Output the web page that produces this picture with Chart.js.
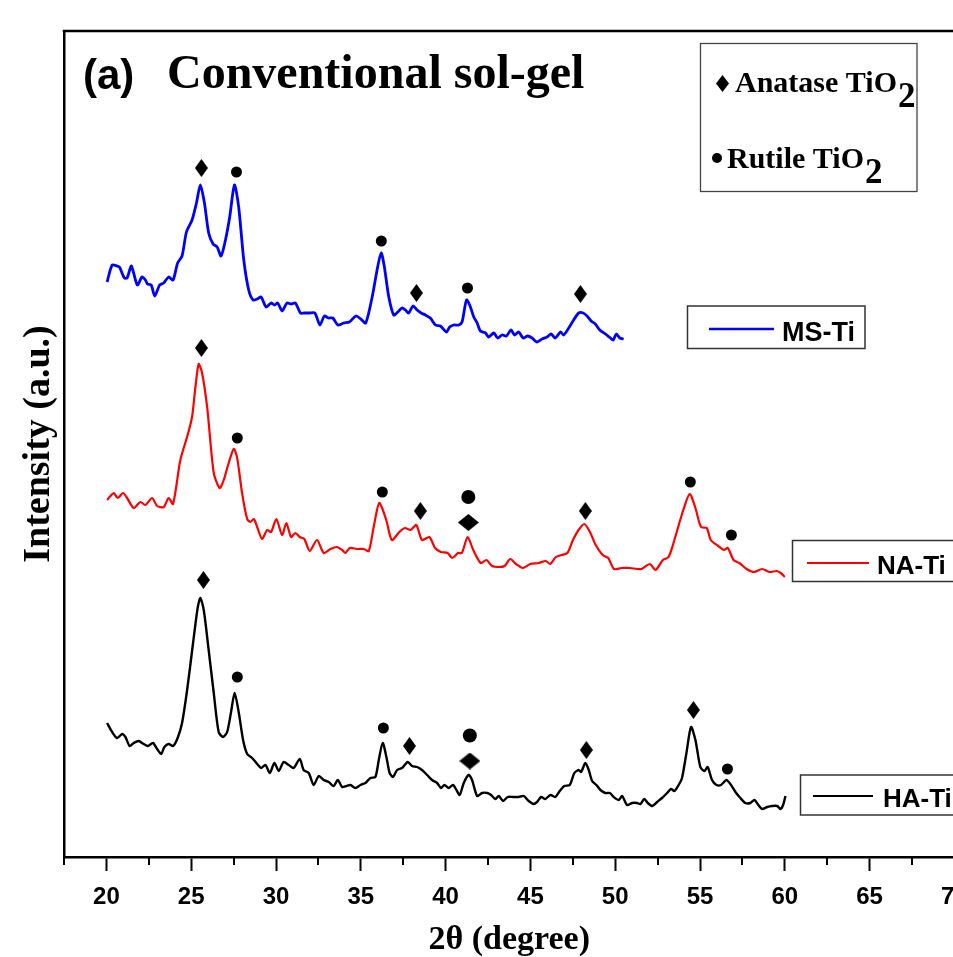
<!DOCTYPE html>
<html><head><meta charset="utf-8">
<script src="https://cdn.jsdelivr.net/npm/chart.js@4/dist/chart.umd.min.js"></script>
<style>
html,body{margin:0;padding:0;overflow:hidden;background:#fff;width:953px;height:957px}
#wrap{position:absolute;left:0;top:0;width:990px;height:957px}
</style>
</head><body><div id="wrap"><canvas id="c" width="990" height="957"></canvas></div>
<script>
// ---- data (2θ in degree, intensity in a.u. with the stacking offset of the figure) ----
const msTheta = [20.04,20.34,20.63,20.77,21.06,21.22,21.46,21.59,21.83,22.10,22.30,22.42,22.64,22.85,23.14,23.38,23.67,23.93,24.20,24.46,24.72,25.05,25.31,25.54,25.78,26.03,26.29,26.53,26.76,27.02,27.27,27.55,27.80,28.10,28.39,28.65,28.89,29.12,29.42,29.71,29.91,30.10,30.36,30.65,30.89,31.14,31.44,31.67,31.96,32.29,32.59,32.85,33.09,33.35,33.65,33.99,34.33,34.71,35.00,35.29,35.67,35.96,36.20,36.39,36.65,36.94,37.18,37.43,37.63,37.82,38.08,38.32,38.56,38.81,39.10,39.40,39.69,40.05,40.24,40.48,40.77,40.97,41.23,41.42,41.66,41.86,42.05,42.35,42.54,42.84,43.07,43.33,43.58,43.86,44.06,44.31,44.57,44.84,45.10,45.39,45.69,45.98,46.22,46.47,46.77,46.96,47.26,47.55,47.85,48.11,48.34,48.58,48.83,49.09,49.42,49.72,49.88,50.07,50.27,50.50];
const msInt = [575,592,591,590,579,579,591,585,572,580,577,573,572,561,572,574,580,577,594,601,625,637,654,672,654,624,613,610,601,617,640,672,650,597,567,557,558,560,550,554,552,554,546,554,553,554,544,544,544,544,532,541,539,539,532,534,535,541,538,534,560,587,604,590,560,542,545,549,547,544,551,547,544,542,539,532,531,525,530,532,532,535,557,552,540,534,526,524,520,524,519,522,521,527,522,525,519,521,519,515,518,520,523,519,525,522,529,537,544,544,541,536,533,527,523,519,517,523,519,518];

const naTheta = [20.04,20.24,20.43,20.67,20.98,21.22,21.61,22.00,22.30,22.69,22.99,23.38,23.67,23.93,24.36,24.79,25.05,25.25,25.44,25.64,25.94,26.33,26.68,26.92,27.21,27.51,27.71,28.00,28.30,28.49,28.69,28.89,29.18,29.48,29.71,30.02,30.36,30.61,30.89,31.14,31.40,31.67,31.99,32.42,32.81,33.21,33.60,33.90,34.09,34.35,34.78,35.17,35.47,35.76,36.09,36.50,36.83,37.27,37.60,37.94,38.27,38.61,39.04,39.38,39.72,40.12,40.39,40.73,40.96,41.30,41.63,42.07,42.41,42.74,43.14,43.48,43.81,44.15,44.55,44.99,45.50,45.90,46.17,46.50,46.84,47.18,47.51,47.84,48.18,48.51,48.85,49.26,49.59,49.93,50.37,50.87,51.54,52.04,52.38,52.81,53.15,53.49,53.96,54.39,54.73,55.06,55.40,55.63,56.07,56.41,56.64,56.98,57.32,57.75,58.19,58.66,59.09,59.53,59.76,60.00];
const naInt = [357,361,364,359,364,359,349,355,352,359,351,350,359,353,397,422,440,470,493,484,450,384,369,377,394,408,399,364,338,335,338,330,318,327,325,338,322,334,320,324,320,318,306,317,304,308,310,307,304,309,308,308,306,330,354,337,317,325,329,327,332,317,320,309,305,304,299,304,304,320,307,294,297,291,290,291,298,293,289,293,294,296,293,300,302,304,317,327,333,325,312,302,299,288,289,289,288,293,287,297,300,317,344,363,349,330,329,317,311,307,309,297,294,288,285,288,285,286,284,280];

const haTheta = [20.04,20.34,20.63,20.93,21.12,21.37,21.61,21.90,22.20,22.44,22.75,22.95,23.23,23.42,23.67,23.93,24.20,24.46,24.76,25.11,25.38,25.54,25.74,26.03,26.33,26.62,26.88,27.12,27.35,27.56,27.80,28.06,28.30,28.59,28.89,29.12,29.38,29.63,29.91,30.16,30.45,30.75,31.04,31.40,31.63,31.93,32.22,32.52,32.81,33.11,33.40,33.64,33.90,34.15,34.39,34.68,34.98,35.27,35.57,35.86,36.06,36.29,36.51,36.70,36.90,37.14,37.43,37.77,38.02,38.32,38.61,38.91,39.20,39.50,39.73,39.93,40.18,40.44,40.64,40.83,41.07,41.36,41.56,41.86,42.15,42.45,42.68,42.94,43.13,43.39,43.66,43.98,44.31,44.61,44.90,45.19,45.39,45.63,45.88,46.18,46.47,46.73,47.00,47.32,47.59,47.85,47.99,48.24,48.44,48.64,48.89,49.13,49.42,49.68,49.91,50.21,50.41,50.70,51.00,51.29,51.49,51.72,51.92,52.18,52.47,52.76,53.06,53.29,53.49,53.74,53.94,54.20,54.47,54.73,55.02,55.26,55.45,55.71,55.97,56.24,56.56,56.83,57.09,57.38,57.68,57.97,58.21,58.40,58.66,58.96,59.25,59.55,59.74,59.90,60.04];
const haInt = [134,125,119,123,120,111,114,116,113,111,114,109,103,110,113,111,119,134,167,214,249,259,247,207,164,125,120,125,145,164,145,117,103,99,93,89,92,84,94,86,95,92,89,98,87,84,72,81,77,75,71,77,70,71,72,69,72,74,79,80,97,114,100,84,80,87,89,95,91,90,87,82,77,74,69,72,69,72,67,62,74,82,77,61,64,64,62,58,61,56,60,60,60,61,56,53,55,60,58,62,60,66,71,72,84,87,85,94,87,76,72,67,64,64,60,57,61,52,54,54,53,58,54,51,55,59,64,68,66,72,79,104,130,117,90,86,90,77,72,72,77,72,65,59,54,54,57,53,48,50,51,51,48,52,61];

// phase markers (peak assignments)
const anataseTheta = [25.60,38.28,47.95,25.60,38.51,48.24,25.72,37.87,48.30,54.61];
const anataseInt   = [689,564,563,509,346,346,277,111,107,147];
const rutileTheta  = [27.67,36.21,41.29,27.72,36.27,54.43,56.85,27.72,36.33,56.62];
const rutileInt    = [685,616,569,419,365,375,322,180,129,88];
const mixedTheta   = [41.34,41.43];
const mixedRutileInt   = [360,121.5];
const mixedAnataseInt  = [334.5,96];

const xTickValues = [20,25,30,35,40,45,50,55,60,65,70];
const seriesNames = ['MS-Ti','NA-Ti','HA-Ti'];

const pts = (xs, ys) => xs.map((x, i) => ({x, y: ys[i]}));

function diamondImg(w, h) {
  const c = document.createElement('canvas');
  c.width = w; c.height = h;
  const g = c.getContext('2d');
  g.fillStyle = '#000';
  g.beginPath();
  g.moveTo(w / 2, 0); g.lineTo(w, h / 2); g.lineTo(w / 2, h); g.lineTo(0, h / 2);
  g.closePath(); g.fill();
  return c;
}
const smallDiamond = diamondImg(13, 18);
const bigDiamond = diamondImg(21, 17);

const deco = {
  id: 'deco',
  afterDraw(chart) {
    const ctx = chart.ctx, a = chart.chartArea, xs = chart.scales.x;
    ctx.save();
    ctx.strokeStyle = '#000';
    ctx.lineWidth = 2.5;
    ctx.beginPath(); ctx.moveTo(a.left - 1.25, a.top); ctx.lineTo(a.right, a.top); ctx.lineTo(a.right, a.bottom); ctx.stroke();

    // minor ticks
    ctx.lineWidth = 2;
    for (let v = 17.5; v <= 70; v += 2.5) {
      if (xTickValues.includes(v)) continue;
      const px = Math.round(xs.getPixelForValue(v));
      ctx.beginPath(); ctx.moveTo(px, a.bottom); ctx.lineTo(px, a.bottom + 8); ctx.stroke();
    }

    ctx.fillStyle = '#000';
    ctx.textAlign = 'left';
    ctx.textBaseline = 'alphabetic';
    ctx.font = 'bold 42px "Liberation Sans"';
    ctx.fillText('(a)', 83, 89);
    ctx.font = 'bold 48px "Liberation Serif"';
    ctx.fillText('Conventional sol-gel', 167, 88);

    // phase legend
    ctx.lineWidth = 1.3; ctx.strokeStyle = '#444';
    ctx.strokeRect(700.5, 43.5, 216.5, 148);
    ctx.drawImage(diamondImg(13, 17), 716, 75);
    ctx.beginPath(); ctx.arc(717, 158, 5, 0, Math.PI * 2); ctx.fill();
    ctx.font = 'bold 30px "Liberation Serif"';
    let w1 = ctx.measureText('Anatase TiO').width;
    ctx.fillText('Anatase TiO', 735, 92);
    let w2 = ctx.measureText('Rutile TiO').width;
    ctx.fillText('Rutile TiO', 727, 168);
    ctx.font = 'bold 35px "Liberation Serif"';
    ctx.fillText('2', 735 + w1 + 1, 107);
    ctx.fillText('2', 727 + w2 + 1, 183);

    // series label boxes
    const boxes = [
      {x: 687.5, y: 306, w: 177.5, h: 42.5, l1: 709, l2: 774, ly: 329, tx: 782, ty: 341, c: '#0000ff', lw: 2.5, fs: 27},
      {x: 792.5, y: 540.5, w: 220, h: 41, l1: 807, l2: 869, ly: 563, tx: 877, ty: 574, c: '#ff0000', lw: 2.2, fs: 26},
      {x: 800.5, y: 775, w: 220, h: 40, l1: 813, l2: 873, ly: 796, tx: 883, ty: 807, c: '#000000', lw: 2.2, fs: 26}
    ];
    boxes.forEach((b, i) => {
      ctx.lineWidth = 1.5; ctx.strokeStyle = '#333';
      ctx.strokeRect(b.x, b.y, b.w, b.h);
      ctx.strokeStyle = b.c; ctx.lineWidth = b.lw;
      ctx.beginPath(); ctx.moveTo(b.l1, b.ly); ctx.lineTo(b.l2, b.ly); ctx.stroke();
      ctx.fillStyle = '#000';
      ctx.font = 'bold ' + b.fs + 'px "Liberation Sans"';
      ctx.fillText(seriesNames[i], b.tx, b.ty);
    });
    ctx.restore();
  }
};

new Chart(document.getElementById('c'), {
  type: 'line',
  data: {
    datasets: [
      {label: seriesNames[0], data: pts(msTheta, msInt), borderColor: '#0000ff', borderWidth: 2.8, pointRadius: 0, tension: 0.25, fill: false},
      {label: seriesNames[1], data: pts(naTheta, naInt), borderColor: '#ff0000', borderWidth: 2.2, pointRadius: 0, tension: 0.25, fill: false},
      {label: seriesNames[2], data: pts(haTheta, haInt), borderColor: '#000000', borderWidth: 2.4, pointRadius: 0, tension: 0.25, fill: false},
      {type: 'scatter', label: 'Anatase', data: pts(anataseTheta, anataseInt), pointStyle: smallDiamond, pointRadius: 6, showLine: false},
      {type: 'scatter', label: 'Rutile', data: pts(rutileTheta, rutileInt), pointStyle: 'circle', pointRadius: 5.5, backgroundColor: '#000', borderWidth: 0, showLine: false},
      {type: 'scatter', label: 'Rutile*', data: pts(mixedTheta, mixedRutileInt), pointStyle: 'circle', pointRadius: 7, backgroundColor: '#000', borderWidth: 0, showLine: false},
      {type: 'scatter', label: 'Anatase*', data: pts(mixedTheta, mixedAnataseInt), pointStyle: bigDiamond, pointRadius: 8, showLine: false}
    ]
  },
  options: {
    responsive: false,
    animation: false,
    events: [],
    layout: {padding: {top: 31, right: 35.6, bottom: 0, left: 0}},
    plugins: {legend: {display: false}, title: {display: false}, tooltip: {enabled: false}},
    scales: {
      x: {
        type: 'linear', min: 17.5, max: 70,
        afterFit(s) { s.height = 100; },
        afterBuildTicks(s) { s.ticks = xTickValues.map(v => ({value: v})); },
        ticks: {
          autoSkip: false, maxRotation: 0, minRotation: 0, padding: 12, color: '#000',
          font: {family: 'Liberation Sans', weight: 'bold', size: 24},
          callback: v => String(v)
        },
        grid: {drawOnChartArea: false, drawTicks: true, tickLength: 14, tickWidth: 2, tickColor: '#000'},
        border: {display: true, color: '#000', width: 2.5},
        title: {display: true, text: '2θ (degree)', color: '#000',
          font: {family: 'Liberation Serif', weight: 'bold', size: 34, lineHeight: 1}, padding: {top: 0, bottom: 0}}
      },
      y: {
        type: 'linear', min: 0, max: 826,
        afterFit(s) { s.width = 64; },
        ticks: {display: false},
        grid: {display: false},
        border: {display: true, color: '#000', width: 2.5},
        title: {display: true, text: 'Intensity (a.u.)', color: '#000',
          font: {family: 'Liberation Serif', weight: 'bold', size: 38, lineHeight: 1}, padding: {top: 20, bottom: 0}}
      }
    }
  },
  plugins: [deco]
});
</script>
</body></html>
